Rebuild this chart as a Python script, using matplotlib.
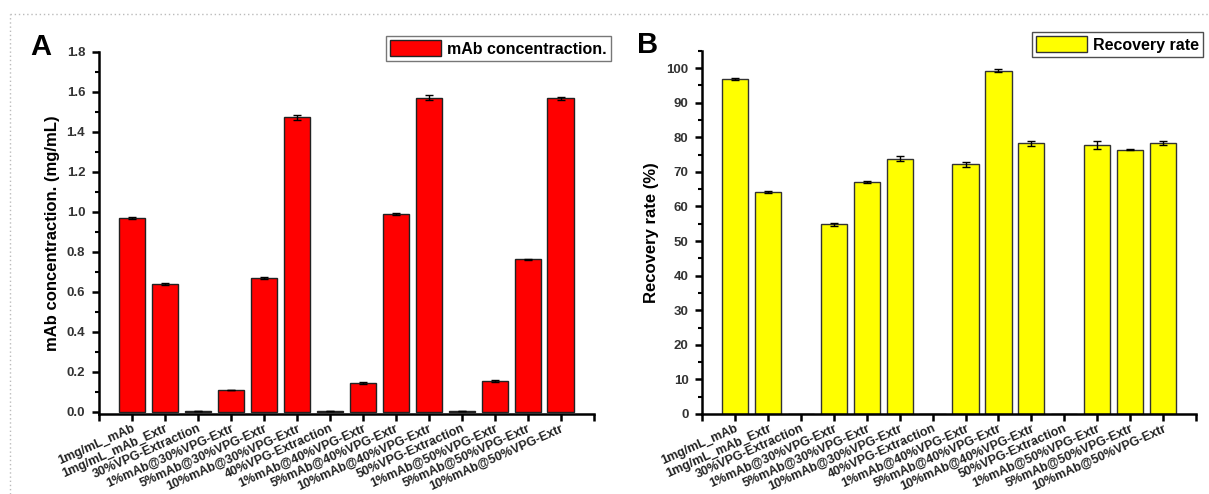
import numpy as np
import matplotlib.pyplot as plt
from matplotlib.patches import Patch
from matplotlib.lines import Line2D
from matplotlib.ticker import MultipleLocator

# nazvy vzorku (stejne pro oba grafy)
samples = ["1mg/mL_mAb", "1mg/mL_mAb_Extr", "30%VPG-Extraction",
           "1%mAb@30%VPG-Extr", "5%mAb@30%VPG-Extr", "10%mAb@30%VPG-Extr",
           "40%VPG-Extraction", "1%mAb@40%VPG-Extr", "5%mAb@40%VPG-Extr",
           "10%mAb@40%VPG-Extr", "50%VPG-Extraction", "1%mAb@50%VPG-Extr",
           "5%mAb@50%VPG-Extr", "10%mAb@50%VPG-Extr"]

# A - koncentrace mAb (mg/mL)
conc = [0.970, 0.640, 0.004, 0.110, 0.668, 1.472, 0.004, 0.145, 0.990, 1.570,
        0.004, 0.155, 0.763, 1.568]
conc_err = [0.003, 0.004, 0.001, 0.002, 0.005, 0.013, 0.001, 0.003, 0.003, 0.012,
            0.001, 0.004, 0.002, 0.007]

# B - recovery rate (%), u extrakci bez mAb neni hodnota
recovery = [96.8, 64.2, np.nan, 54.8, 67.0, 73.8, np.nan, 72.2, 99.3, 78.3,
            np.nan, 77.7, 76.4, 78.4]
recovery_err = [0.3, 0.4, np.nan, 0.3, 0.3, 0.7, np.nan, 0.7, 0.4, 0.7,
                np.nan, 1.1, 0.2, 0.6]

plt.rcParams['font.family'] = ['Liberation Sans', 'DejaVu Sans']
plt.rcParams['font.weight'] = 'bold'

fig = plt.figure(figsize=(12.09, 4.94), dpi=100)
ax1 = fig.add_axes([0.082, 0.162, 0.409, 0.733])
ax2 = fig.add_axes([0.581, 0.162, 0.408, 0.735])

x = np.arange(1, len(samples) + 1)


def style_axes(ax, ylim, major, minor, fmt):
    ax.set_xlim(0, 15)
    ax.set_ylim(*ylim)
    for s in ["top", "right"]:
        ax.spines[s].set_visible(False)
    for s in ["left", "bottom"]:
        ax.spines[s].set_linewidth(1.8)
    ax.yaxis.set_major_locator(MultipleLocator(major))
    ax.yaxis.set_minor_locator(MultipleLocator(minor))
    ax.yaxis.set_major_formatter(fmt)
    ax.tick_params(axis="both", which="major", length=5, width=1.8)
    ax.tick_params(axis="y", which="minor", length=3, width=1.5)
    ax.tick_params(axis="y", pad=5, labelsize=9.5, labelcolor="#333333")
    ax.tick_params(axis="x", pad=1)
    ax.set_xticks(np.arange(0, 16))
    ax.set_xticklabels([""] + samples + [""], rotation=24, ha="right",
                       rotation_mode="anchor", fontsize=9, color="#222222")
    for lab in ax.get_yticklabels():
        lab.set_fontweight("bold")


ax1.bar(x, conc, width=0.8, color="#ff0000", edgecolor="#222222", linewidth=1)
ax1.errorbar(x, conc, yerr=conc_err, fmt="none", ecolor="black", elinewidth=1,
             capsize=3, capthick=1)
style_axes(ax1, (-0.01, 1.8), 0.2, 0.1, "{x:.1f}")
ax1.set_ylabel("mAb concentraction. (mg/mL)", fontsize=12, fontweight="bold",
               labelpad=5)

rec = np.nan_to_num(np.array(recovery))
ax2.bar(x, rec, width=0.8, color="#ffff00", edgecolor="#333333", linewidth=1)
ax2.errorbar(x, recovery, yerr=recovery_err, fmt="none", ecolor="black",
             elinewidth=1, capsize=3, capthick=1)
style_axes(ax2, (0, 105), 10, 5, "{x:.0f}")
ax2.set_ylabel("Recovery rate (%)", fontsize=12, fontweight="bold", labelpad=5)

# legendy (presahuji pres osy)
fig.legend(handles=[Patch(facecolor="#ff0000", edgecolor="#222222", label="mAb concentraction.")],
           loc="upper right", bbox_to_anchor=(611 / 1209, 1 - 36 / 494), fontsize=11.5,
           frameon=True, fancybox=False, edgecolor="#555555", borderpad=0.25,
           handlelength=3.2, handleheight=1.2, handletextpad=0.4, borderaxespad=0)
fig.legend(handles=[Patch(facecolor="#ffff00", edgecolor="#333333", label="Recovery rate")],
           loc="upper right", bbox_to_anchor=(1203 / 1209, 1 - 32 / 494), fontsize=11.5,
           frameon=True, fancybox=False, edgecolor="#222222", borderpad=0.25,
           handlelength=3.2, handleheight=1.2, handletextpad=0.4, borderaxespad=0)

# oznaceni panelu
fig.text(30 / 1209, 1 - 55 / 494, "A", fontsize=21, fontweight="bold")
fig.text(637 / 1209, 1 - 53 / 494, "B", fontsize=21, fontweight="bold")

# teckovany ramecek kolem obrazku
fig.add_artist(Line2D([10 / 1209, 1], [1 - 14 / 494] * 2, color="#bbbbbb",
                      linestyle=(0, (1, 2)), linewidth=1))
fig.add_artist(Line2D([10 / 1209] * 2, [0, 1 - 14 / 494], color="#bbbbbb",
                      linestyle=(0, (1, 2)), linewidth=1))

plt.savefig("out.png", dpi=100)
